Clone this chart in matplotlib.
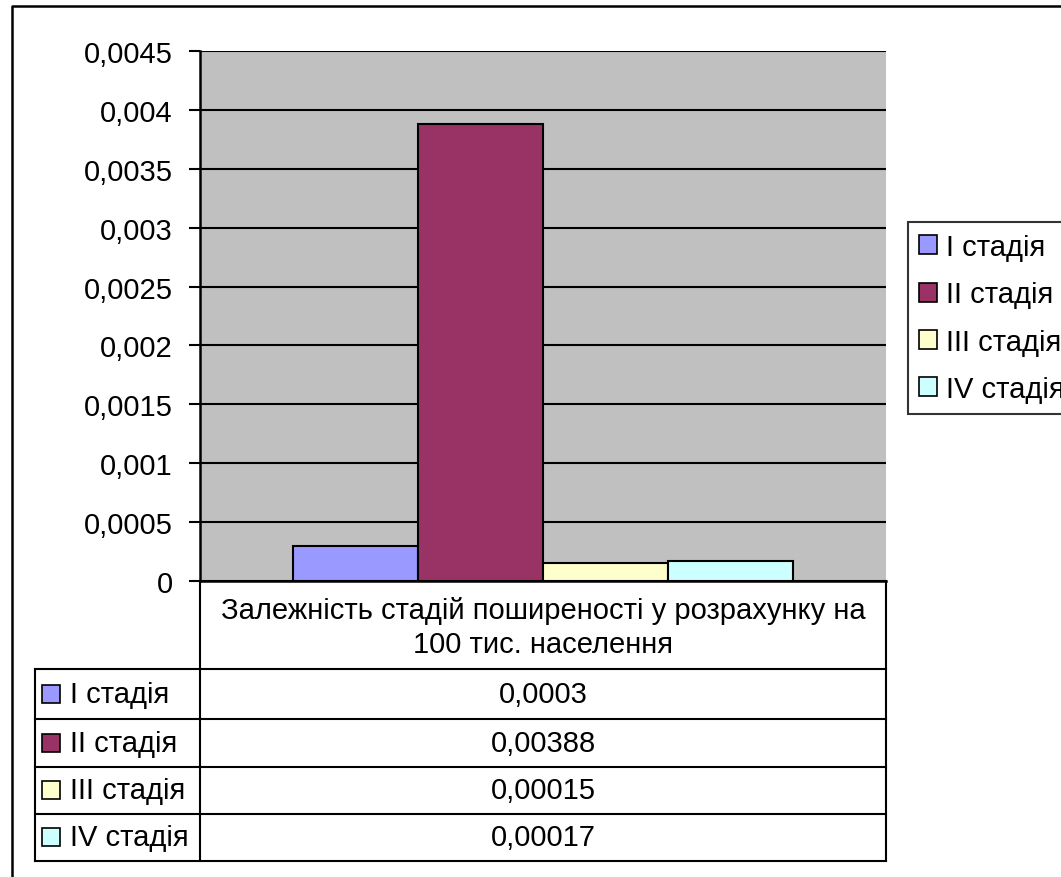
import numpy as np
import matplotlib
matplotlib.use("Agg")
import matplotlib.pyplot as plt
from matplotlib.patches import Rectangle
from matplotlib.ticker import FuncFormatter

# data
category = "Залежність стадій поширеності у розрахунку на\n100 тис. населення"
stages = ["I стадія", "II стадія", "III стадія", "IV стадія"]
values = [0.0003, 0.00388, 0.00015, 0.00017]
colors = ["#9999FF", "#993366", "#FFFFCC", "#CCFFFF"]
yticks = np.arange(0, 0.0046, 0.0005)

plt.rcParams["font.family"] = ["Liberation Sans", "DejaVu Sans"]
FS = 21

W, H = 1061, 878
fig = plt.figure(figsize=(W / 100, H / 100), dpi=100)

# overlay in pixel coordinates for the frame and data table
ov = fig.add_axes([0, 0, 1, 1])
ov.set_xlim(0, W)
ov.set_ylim(H, 0)
ov.axis("off")


def fx(x):
    return x / W


def fy(y):
    return 1 - y / H


# plot area (pixels)
L, R, T, B = 200, 886, 52, 582
ax = fig.add_axes([fx(L), fy(B), fx(R - L), (B - T) / H])
ax.set_facecolor("#C0C0C0")
bw = 0.182
for i, (v, c, s) in enumerate(zip(values, colors, stages)):
    ax.bar((i - 1.5) * bw, v, width=bw, color=c, edgecolor="black",
           linewidth=1.5, label=s, zorder=3)
ax.set_xlim(-0.5, 0.5)
ax.set_ylim(0, 0.0045)
ax.set_yticks(yticks)
ax.yaxis.set_major_formatter(FuncFormatter(
    lambda v, p: "0" if v == 0 else ("%g" % round(v, 5)).replace(".", ",")))
ax.tick_params(axis="y", labelsize=FS, length=8, width=1.5, pad=11.5)
ax.set_xticks([])
ax.grid(axis="y", color="black", linewidth=1.5, zorder=1)
for sp in ["top", "right"]:
    ax.spines[sp].set_visible(False)
ax.spines["left"].set_linewidth(1.8)
ax.spines["bottom"].set_linewidth(1.8)

leg = ax.legend(loc="upper left", bbox_to_anchor=(fx(908), fy(223)),
                bbox_transform=fig.transFigure, fontsize=FS, frameon=True,
                fancybox=False, edgecolor="black", handlelength=0.62,
                handleheight=0.62, handletextpad=0.3, labelspacing=0.66,
                borderpad=0.38, borderaxespad=0)
leg.get_frame().set_linewidth(1.5)
for h in leg.legend_handles:
    h.set_linewidth(1.2)

# outer chart frame
ov.plot([12, 12, W + 5], [H + 5, 7, 7], color="black", lw=1.8)

# data table
TL, RH = 35, [670, 720, 768, 815, 862]
lw = 1.5
ov.plot([L, L], [B, RH[-1]], color="black", lw=lw)
ov.plot([R, R], [B, RH[-1]], color="black", lw=lw)
ov.plot([TL, TL], [RH[0], RH[-1]], color="black", lw=lw)
for y in RH:
    ov.plot([TL, R], [y, y], color="black", lw=lw)
ov.text((L + R) / 2, (B + RH[0]) / 2 + 2, category, ha="center", va="center",
        fontsize=FS, linespacing=1.3)
for i, (v, c, s) in enumerate(zip(values, colors, stages)):
    yc = (RH[i] + RH[i + 1]) / 2
    ov.add_patch(Rectangle((42, yc - 9), 18, 18, facecolor=c,
                           edgecolor="black", lw=1.2))
    ov.text(70, yc, s, ha="left", va="center", fontsize=FS)
    ov.text((L + R) / 2, yc, ("%g" % v).replace(".", ","), ha="center",
            va="center", fontsize=FS)

fig.savefig("out.png", dpi=100)
